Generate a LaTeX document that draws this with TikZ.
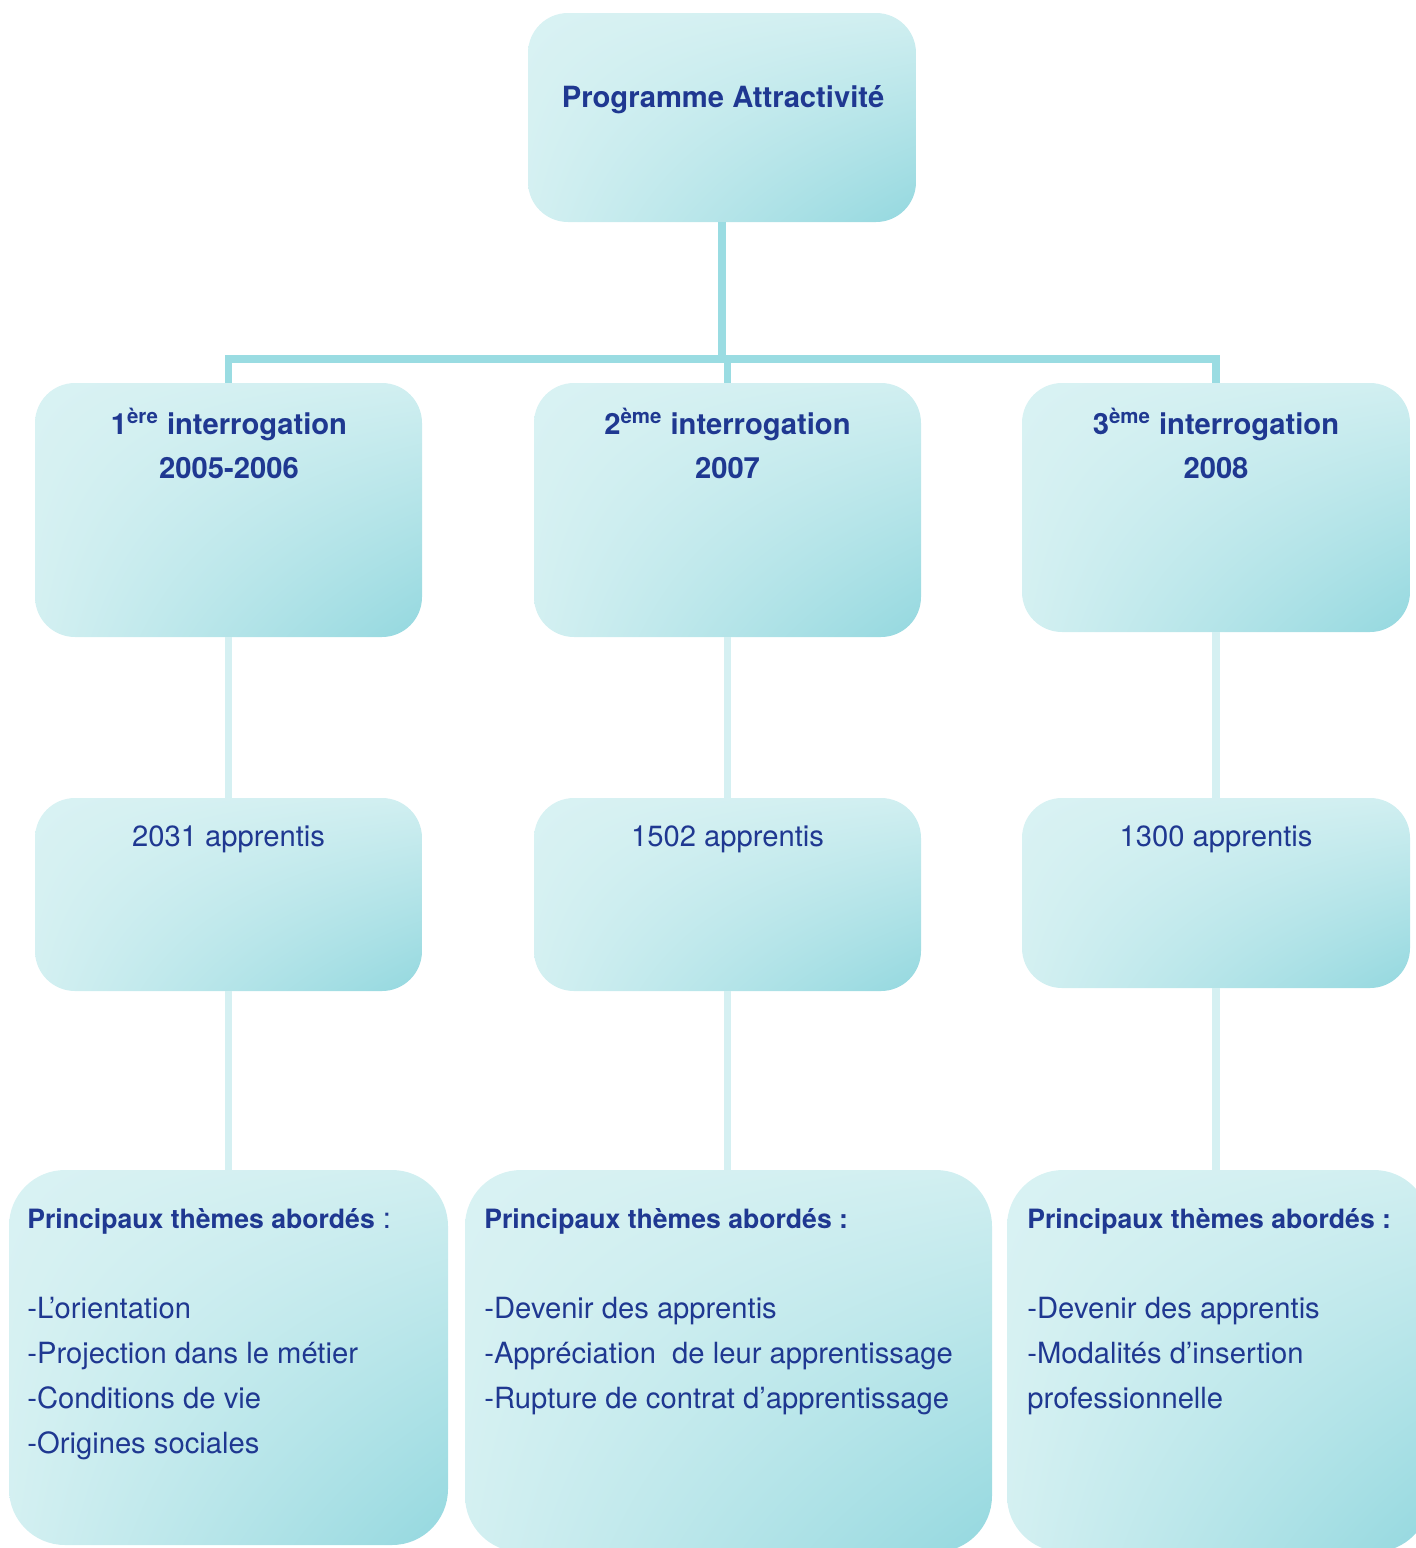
\documentclass[tikz,border=0pt]{standalone}
\usepackage{fontspec}
\setmainfont{TeX Gyre Heros}
\usetikzlibrary{shadings}
\definecolor{bleu}{RGB}{31,56,145}
\definecolor{clair}{RGB}{217,242,243}
\definecolor{fonce}{RGB}{148,216,223}
\definecolor{trait}{RGB}{154,220,226}
\definecolor{traitclair}{RGB}{213,240,242}
\tikzset{
  boite/.style={shade,upper left=clair,upper right=clair!88!fonce,lower left=clair!92!fonce,lower right=fonce,rounded corners=20pt,inner sep=0pt},
  tronc/.style={draw=trait,line width=3.7pt},
  branche/.style={draw=traitclair,line width=3.7pt},
  texte/.style={text=bleu,font=\fontsize{14.6}{22.5}\selectfont,inner sep=0pt},
  gras/.style={texte,font=\bfseries\fontsize{14.6}{22}\selectfont,align=center}
}
\begin{document}
\begin{tikzpicture}[x=0.5pt,y=-0.5pt]
\useasboundingbox (0,0) rectangle (1416,1548);
\node[boite,minimum width=194pt,minimum height=104.5pt](prog) at(722,117.5){};
\node[boite,minimum width=193.5pt,minimum height=127pt](int1) at(228.5,510){};
\node[boite,minimum width=193.5pt,minimum height=127pt](int2) at(727.5,510){};
\node[boite,minimum width=194pt,minimum height=124.5pt](int3) at(1216,507.5){};
\node[boite,minimum width=193.5pt,minimum height=96.5pt](app1) at(228.5,894.5){};
\node[boite,minimum width=193.5pt,minimum height=96.5pt](app2) at(727.5,894.5){};
\node[boite,minimum width=194pt,minimum height=95pt](app3) at(1216,893){};
\node[boite,rounded corners=28pt,minimum width=219.5pt,minimum height=187.5pt](them1) at(228.5,1357.5){};
\node[boite,rounded corners=28pt,minimum width=263.5pt,minimum height=191pt](them2) at(728.5,1361){};
\node[boite,rounded corners=28pt,minimum width=211.5pt,minimum height=191pt](them3) at(1218.5,1361){};
\coordinate (bus) at(722,359);
\draw[tronc] (prog.south)--(bus);
\draw[tronc] (int1.north)|-(bus)-|(int3.north);
\draw[tronc] (int2.north)--(int2.north|-bus);
\draw[branche] (int1.south)--(app1.north);
\draw[branche] (int2.south)--(app2.north);
\draw[branche] (int3.south)--(app3.north);
\draw[branche] (app1.south)--(app1.south|-them1.north);
\draw[branche] (app2.south)--(app2.south|-them2.north);
\draw[branche] (app3.south)--(app3.south|-them3.north);
\node[gras,anchor=base](tprog) at(723,107){Programme Attractivité};
\node[gras,anchor=base](tint1) at(229,478){1\textsuperscript{ère} interrogation\\2005-2006};
\node[gras,anchor=base](tint2) at(727.5,478){2\textsuperscript{ème} interrogation\\2007};
\node[gras,anchor=base](tint3) at(1216,478){3\textsuperscript{ème} interrogation\\2008};
\node[texte,anchor=base](tapp1) at(228.5,846){2031 apprentis};
\node[texte,anchor=base](tapp2) at(727.5,846){1502 apprentis};
\node[texte,anchor=base](tapp3) at(1216,846){1300 apprentis};
\node[texte,align=left,anchor=base west](tthem1) at(27,1453){{\bfseries\fontsize{13.3}{22.5}\selectfont Principaux thèmes abordés} :\\[22.5pt]-L’orientation\\-Projection dans le métier\\-Conditions de vie\\-Origines sociales};
\node[texte,align=left,anchor=base west](tthem2) at(484,1408){{\bfseries\fontsize{13.3}{22.5}\selectfont Principaux thèmes abordés :}\\[22.5pt]-Devenir des apprentis\\-Appréciation\ \ de leur apprentissage\\-Rupture de contrat d’apprentissage};
\node[texte,align=left,anchor=base west](tthem3) at(1027,1408){{\bfseries\fontsize{13.3}{22.5}\selectfont Principaux thèmes abordés :}\\[22.5pt]-Devenir des apprentis\\-Modalités d’insertion\\professionnelle};
\end{tikzpicture}
\end{document}
